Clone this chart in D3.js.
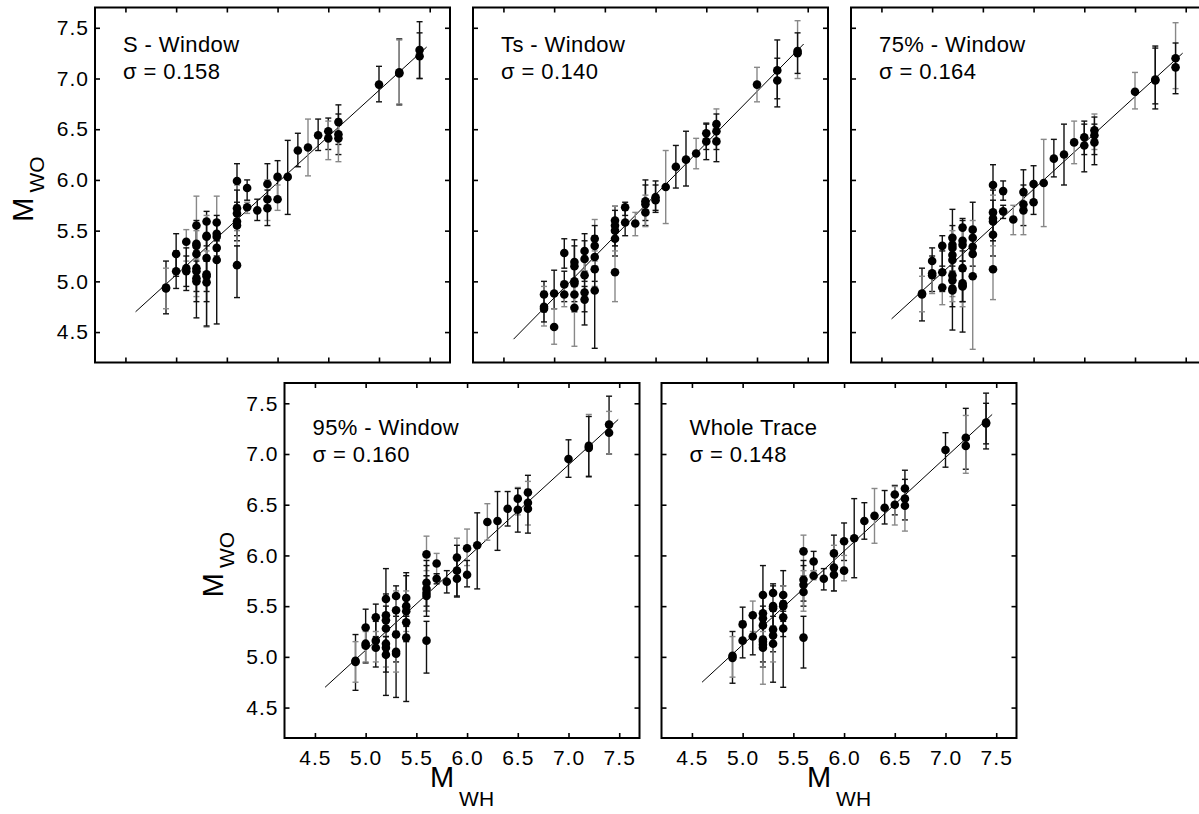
<!DOCTYPE html>
<html lang="en">
	<head>
		<meta charset="utf-8">
		<title>M_WO vs M_WH, five windows</title>
		<script type="text/javascript" src="https://cdn.jsdelivr.net/npm/d3@7"></script>
		<style type="text/css">
			body { margin: 0; background: #fff; }
			text { font-family: "Liberation Sans", Arial, sans-serif; fill: #000; }
		</style>
	</head>
	<body>
		<script type="text/javascript">
			// [M_WH, M_WO, lower, upper]
			var sWindow = [
				[4.9,4.94,4.68,5.20],[4.9,4.93,4.73,5.13],
				[5.0,5.27,5.05,5.47],[5.0,5.10,4.93,5.30],
				[5.1,5.39,5.20,5.51],[5.1,5.13,4.91,5.33],[5.1,5.10,4.95,5.25],
				[5.2,5.55,5.30,5.84],[5.2,5.37,5.15,5.60],[5.2,5.35,5.12,5.57],[5.2,5.27,5.05,5.50],[5.2,5.13,4.64,5.35],[5.2,5.10,4.90,5.30],[5.2,5.03,4.85,5.22],[5.2,5.00,4.80,5.20],
				[5.3,5.59,5.35,5.69],[5.3,5.45,5.25,5.65],[5.3,5.44,5.20,5.60],[5.3,5.23,4.90,5.45],[5.3,5.07,4.55,5.30],[5.3,5.05,4.80,5.25],[5.3,4.99,4.56,5.20],
				[5.4,5.58,5.40,5.84],[5.4,5.47,5.30,5.65],[5.4,5.44,5.25,5.60],[5.4,5.33,5.20,5.45],[5.4,5.21,4.58,5.40],
				[5.6,5.99,5.75,6.16],[5.6,5.72,5.50,5.95],[5.6,5.67,5.45,5.90],[5.6,5.59,5.40,5.78],[5.6,5.55,5.35,5.75],[5.6,5.16,4.84,5.35],
				[5.7,5.92,5.80,6.00],[5.7,5.73,5.67,5.78],
				[5.8,5.70,5.60,5.81],
				[5.9,5.96,5.75,6.16],[5.9,5.81,5.60,6.00],[5.9,5.72,5.55,5.90],
				[6.0,6.03,5.82,6.19],[6.0,5.81,5.70,5.95],
				[6.1,6.03,5.66,6.39],
				[6.2,6.29,6.13,6.46],
				[6.3,6.32,6.04,6.60],
				[6.4,6.44,6.29,6.60],
				[6.5,6.48,6.30,6.61],[6.5,6.41,6.20,6.58],
				[6.6,6.57,6.35,6.74],[6.6,6.45,6.25,6.65],[6.6,6.41,6.18,6.60],
				[7.0,6.94,6.77,7.12],
				[7.2,7.06,6.74,7.39],[7.2,7.05,6.75,7.38],
				[7.4,7.28,7.00,7.56],[7.4,7.22,7.00,7.45]
			];

			var tsWindow = [
				[4.9,4.87,4.70,5.00],[4.9,4.75,4.56,4.95],[4.9,4.73,4.60,4.90],
				[5.0,4.88,4.73,5.11],[5.0,4.55,4.38,4.73],
				[5.1,5.28,5.13,5.42],[5.1,4.97,4.80,5.10],[5.1,4.87,4.75,5.00],
				[5.2,5.19,5.00,5.41],[5.2,5.15,4.95,5.35],[5.2,5.00,4.85,5.15],[5.2,4.98,4.80,5.13],[5.2,4.87,4.70,5.00],[5.2,4.74,4.36,4.95],
				[5.3,5.30,5.10,5.47],[5.3,5.22,5.00,5.40],[5.3,5.06,4.90,5.25],[5.3,4.89,4.70,5.05],[5.3,4.82,4.57,4.95],
				[5.4,5.42,5.20,5.61],[5.4,5.35,5.15,5.55],[5.4,5.24,5.00,5.45],[5.4,5.12,4.95,5.30],[5.4,4.91,4.34,5.10],
				[5.6,5.60,5.40,5.74],[5.6,5.55,5.35,5.74],[5.6,5.50,5.35,5.70],[5.6,5.42,5.25,5.60],[5.6,5.09,4.80,5.30],
				[5.7,5.73,5.65,5.78],[5.7,5.58,5.45,5.70],
				[5.8,5.57,5.45,5.68],
				[5.9,5.79,5.60,6.00],[5.9,5.76,5.55,5.95],[5.9,5.68,5.54,5.85],
				[6.0,5.83,5.70,5.99],[6.0,5.80,5.68,5.95],
				[6.1,5.93,5.57,6.29],
				[6.2,6.13,5.92,6.34],
				[6.3,6.20,5.94,6.48],
				[6.4,6.26,6.11,6.41],
				[6.5,6.46,6.30,6.56],[6.5,6.38,6.20,6.55],
				[6.6,6.55,6.40,6.70],[6.6,6.48,6.30,6.65],[6.6,6.38,6.18,6.55],
				[7.0,6.94,6.77,7.11],
				[7.2,7.08,6.80,7.38],[7.2,6.98,6.72,7.20],
				[7.4,7.27,7.00,7.57],[7.4,7.25,7.05,7.45]
			];

			var w75Window = [
				[4.9,4.88,4.61,5.13],[4.9,4.87,4.70,5.05],
				[5.0,5.20,5.05,5.33],[5.0,5.08,4.90,5.25],[5.0,5.06,4.88,5.20],
				[5.1,5.35,5.15,5.45],[5.1,5.09,4.90,5.30],[5.1,4.94,4.77,5.10],
				[5.2,5.43,5.25,5.71],[5.2,5.36,5.15,5.55],[5.2,5.33,5.10,5.50],[5.2,5.26,5.05,5.45],[5.2,5.21,5.00,5.40],[5.2,5.06,4.85,5.25],[5.2,5.01,4.52,5.20],[5.2,4.93,4.75,5.10],[5.2,4.91,4.80,5.05],
				[5.3,5.53,5.30,5.62],[5.3,5.40,5.20,5.60],[5.3,5.36,5.15,5.55],[5.3,5.13,4.80,5.35],[5.3,4.98,4.50,5.20],[5.3,4.96,4.75,5.15],[5.3,4.95,4.80,5.10],
				[5.4,5.51,5.30,5.78],[5.4,5.43,5.25,5.60],[5.4,5.34,5.15,5.50],[5.4,5.27,5.05,5.45],[5.4,5.05,4.33,5.30],
				[5.6,5.95,5.70,6.15],[5.6,5.68,5.45,5.90],[5.6,5.62,5.40,5.85],[5.6,5.59,5.40,5.80],[5.6,5.46,5.25,5.65],[5.6,5.12,4.82,5.35],
				[5.7,5.89,5.80,5.99],[5.7,5.69,5.62,5.75],
				[5.8,5.61,5.46,5.75],
				[5.9,5.88,5.70,6.10],[5.9,5.76,5.55,5.95],[5.9,5.70,5.46,5.90],
				[6.0,5.96,5.80,6.14],[6.0,5.78,5.66,5.95],
				[6.1,5.97,5.54,6.40],
				[6.2,6.21,6.03,6.40],
				[6.3,6.25,5.95,6.55],
				[6.4,6.37,6.16,6.58],
				[6.5,6.42,6.25,6.58],[6.5,6.34,6.08,6.55],
				[6.6,6.49,6.30,6.65],[6.6,6.44,6.25,6.62],[6.6,6.37,6.15,6.55],
				[7.0,6.87,6.70,7.06],
				[7.2,6.99,6.70,7.32],[7.2,6.98,6.75,7.30],
				[7.4,7.20,6.90,7.55],[7.4,7.11,6.85,7.35]
			];

			var w95Window = [
				[4.9,4.96,4.67,5.22],[4.9,4.95,4.75,5.15],
				[5.0,5.29,5.10,5.47],[5.0,5.13,4.94,5.30],[5.0,5.11,4.95,5.25],
				[5.1,5.39,5.20,5.52],[5.1,5.16,4.90,5.35],[5.1,5.09,4.95,5.25],
				[5.2,5.57,5.35,5.87],[5.2,5.41,5.20,5.62],[5.2,5.36,5.15,5.60],[5.2,5.28,5.05,5.50],[5.2,5.13,4.62,5.35],[5.2,5.09,4.90,5.30],[5.2,5.02,4.85,5.20],
				[5.3,5.60,5.40,5.70],[5.3,5.46,5.25,5.65],[5.3,5.22,4.95,5.45],[5.3,5.05,4.60,5.25],[5.3,5.03,4.85,5.20],
				[5.4,5.58,5.40,5.83],[5.4,5.50,5.30,5.80],[5.4,5.45,5.25,5.65],[5.4,5.34,5.15,5.50],[5.4,5.19,4.56,5.40],
				[5.6,6.01,5.85,6.19],[5.6,5.73,5.50,5.95],[5.6,5.67,5.45,5.90],[5.6,5.63,5.45,5.80],[5.6,5.60,5.40,5.80],[5.6,5.16,4.84,5.35],
				[5.7,5.92,5.82,6.02],[5.7,5.77,5.72,5.82],
				[5.8,5.74,5.63,5.85],
				[5.9,5.98,5.80,6.17],[5.9,5.85,5.60,6.10],[5.9,5.77,5.59,5.95],
				[6.0,6.07,5.90,6.26],[6.0,5.81,5.69,5.95],
				[6.1,6.10,5.67,6.42],
				[6.2,6.33,6.15,6.51],
				[6.3,6.34,6.05,6.63],
				[6.4,6.46,6.29,6.63],
				[6.5,6.56,6.40,6.67],[6.5,6.45,6.23,6.66],
				[6.6,6.62,6.45,6.79],[6.6,6.52,6.30,6.73],[6.6,6.46,6.22,6.65],
				[7.0,6.95,6.77,7.14],
				[7.2,7.08,6.77,7.39],[7.2,7.06,6.78,7.37],
				[7.4,7.29,7.00,7.57],[7.4,7.21,7.00,7.42]
			];

			var wholeTrace = [
				[4.9,5.01,4.74,5.25],[4.9,4.99,4.80,5.20],
				[5.0,5.32,5.15,5.49],[5.0,5.16,4.99,5.35],
				[5.1,5.41,5.25,5.55],[5.1,5.20,5.02,5.40],
				[5.2,5.61,5.35,5.90],[5.2,5.43,5.20,5.62],[5.2,5.38,5.15,5.60],[5.2,5.31,5.10,5.50],[5.2,5.17,4.73,5.40],[5.2,5.15,4.95,5.35],[5.2,5.12,4.90,5.30],[5.2,5.09,4.90,5.25],
				[5.3,5.63,5.45,5.72],[5.3,5.50,5.30,5.70],[5.3,5.48,5.30,5.65],[5.3,5.27,5.05,5.45],[5.3,5.21,4.75,5.40],[5.3,5.13,4.95,5.30],
				[5.4,5.61,5.40,5.85],[5.4,5.52,5.35,5.70],[5.4,5.50,5.30,5.70],[5.4,5.39,5.20,5.55],[5.4,5.28,4.70,5.45],
				[5.6,6.04,5.80,6.20],[5.6,5.76,5.55,5.95],[5.6,5.71,5.50,5.90],[5.6,5.64,5.45,5.85],[5.6,5.19,4.89,5.40],
				[5.7,5.94,5.85,6.04],[5.7,5.80,5.76,5.85],
				[5.8,5.77,5.66,5.87],
				[5.9,6.02,5.85,6.20],[5.9,5.88,5.65,6.10],[5.9,5.81,5.65,6.00],
				[6.0,6.14,5.95,6.32],[6.0,5.85,5.75,6.00],
				[6.1,6.17,5.78,6.56],
				[6.2,6.34,6.16,6.52],
				[6.3,6.39,6.12,6.66],
				[6.4,6.47,6.31,6.64],
				[6.5,6.60,6.40,6.69],[6.5,6.50,6.30,6.68],
				[6.6,6.66,6.50,6.84],[6.6,6.56,6.35,6.75],[6.6,6.49,6.24,6.65],
				[7.0,7.04,6.87,7.21],
				[7.2,7.16,6.85,7.45],[7.2,7.08,6.81,7.38],
				[7.4,7.31,7.05,7.60],[7.4,7.30,7.10,7.50]
			];

			var panelData = [sWindow, tsWindow, w75Window, w95Window, wholeTrace];
			var panelNames = ["S - Window", "Ts - Window", "75% - Window", "95% - Window", "Whole Trace"];
			var sigmas = ["0.158", "0.140", "0.164", "0.160", "0.148"];
			// fit line ends [x0, y0, x1, y1]
			var fitLines = [
				[4.6, 4.70, 7.47, 7.31],
				[4.6, 4.43, 7.46, 7.34],
				[4.6, 4.63, 7.47, 7.25],
				[4.6, 4.70, 7.49, 7.34],
				[4.6, 4.75, 7.46, 7.39]
			];
			var tickValues = [4.5, 5.0, 5.5, 6.0, 6.5, 7.0, 7.5];
			var axisDomain = [4.2, 7.7];

			var w = 1199;
			var h = 814;
			var size = 355;

			// panel frames: top row three, bottom row two
			var layout = [
				{ left: 95, top: 7.5, row: 0, yLabels: true, xLabels: false },
				{ left: 473, top: 7.5, row: 0, yLabels: false, xLabels: false },
				{ left: 851, top: 7.5, row: 0, yLabels: false, xLabels: false },
				{ left: 284.5, top: 383, row: 1, yLabels: true, xLabels: true },
				{ left: 661.5, top: 383, row: 1, yLabels: false, xLabels: true }
			];

			var xScale = d3.scaleLinear().domain(axisDomain).range([0, size]);
			var yScale = d3.scaleLinear().domain(axisDomain).range([size, 0]);
			var fmt = d3.format(".1f");

			var svg = d3.select("body")
						.append("svg")
						.attr("width", w)
						.attr("height", h);

			layout.forEach(function(p, i) {
				var g = svg.append("g")
					.attr("transform", "translate(" + p.left + "," + p.top + ")");

				// axes, ticks pointing inward
				var left = g.append("g")
					.call(d3.axisLeft(yScale).tickValues(tickValues).tickSize(-5).tickPadding(6)
						.tickFormat(p.yLabels ? fmt : ""));
				var bottom = g.append("g")
					.attr("transform", "translate(0," + size + ")")
					.call(d3.axisBottom(xScale).tickValues(tickValues).tickSize(-5).tickPadding(12)
						.tickFormat(p.xLabels ? fmt : ""));
				var top = g.append("g")
					.call(d3.axisTop(xScale).tickValues(tickValues).tickSize(-5).tickFormat(""));
				var right = g.append("g")
					.attr("transform", "translate(" + size + ",0)")
					.call(d3.axisRight(yScale).tickValues(tickValues).tickSize(-5).tickFormat(""));

				[left, bottom, top, right].forEach(function(a) {
					a.select(".domain").remove();
					a.selectAll("line").attr("stroke", "#000").attr("stroke-width", 1.6);
					a.selectAll("text")
						.style("font-family", "'Liberation Sans', Arial, sans-serif")
						.style("font-size", "21px")
						.style("letter-spacing", "1px")
						.attr("fill", "#000");
				});

				g.append("rect")
					.attr("x", 0)
					.attr("y", 0)
					.attr("width", size)
					.attr("height", size)
					.attr("fill", "none")
					.attr("stroke", "#000")
					.attr("stroke-width", 2);

				// fit line
				var f = fitLines[i];
				g.append("line")
					.attr("x1", xScale(f[0]))
					.attr("y1", yScale(f[1]))
					.attr("x2", xScale(f[2]))
					.attr("y2", yScale(f[3]))
					.attr("stroke", "#000")
					.attr("stroke-width", 1);

				var data = panelData[i];

				// error bars, mostly dark with some grey ones like the original
				var bars = g.selectAll(".bar")
					.data(data)
					.enter()
					.append("g")
					.attr("class", "bar")
					.attr("stroke", function(d, j) { return j % 3 == 1 ? "#888" : "#111"; })
					.attr("stroke-width", 1.4);

				bars.append("line")
					.attr("x1", function(d) { return xScale(d[0]); })
					.attr("x2", function(d) { return xScale(d[0]); })
					.attr("y1", function(d) { return yScale(d[2]); })
					.attr("y2", function(d) { return yScale(d[3]); });
				bars.append("line")
					.attr("x1", function(d) { return xScale(d[0]) - 3; })
					.attr("x2", function(d) { return xScale(d[0]) + 3; })
					.attr("y1", function(d) { return yScale(d[2]); })
					.attr("y2", function(d) { return yScale(d[2]); });
				bars.append("line")
					.attr("x1", function(d) { return xScale(d[0]) - 3; })
					.attr("x2", function(d) { return xScale(d[0]) + 3; })
					.attr("y1", function(d) { return yScale(d[3]); })
					.attr("y2", function(d) { return yScale(d[3]); });

				g.selectAll(".dot")
					.data(data)
					.enter()
					.append("circle")
					.attr("class", "dot")
					.attr("cx", function(d) { return xScale(d[0]); })
					.attr("cy", function(d) { return yScale(d[1]); })
					.attr("r", 4.3)
					.attr("fill", "#000");

				// panel title and sigma
				var ty = p.row == 0 ? 44 : 52;
				g.append("text")
					.attr("x", 28)
					.attr("y", ty)
					.style("font-size", "22px")
					.style("letter-spacing", "0.4px")
					.text(panelNames[i]);
				g.append("text")
					.attr("x", 28)
					.attr("y", ty + 27)
					.style("font-size", "22px")
					.style("letter-spacing", "0.4px")
					.text("\u03c3 = " + sigmas[i]);

				// axis titles
				if (p.yLabels) {
					var yt = g.append("text")
						.attr("transform", "translate(-62," + (size / 2 + 4) + ") rotate(-90)")
						.attr("text-anchor", "middle");
					yt.append("tspan").style("font-size", "29px").text("M");
					yt.append("tspan").attr("dx", 5).attr("dy", 11).style("font-size", "21px").text("WO");
				}
				if (p.xLabels) {
					var xt = g.append("text")
						.attr("transform", "translate(" + (size / 2) + "," + (size + 49) + ")")
						.attr("text-anchor", "middle");
					xt.append("tspan").style("font-size", "29px").text("M");
					xt.append("tspan").attr("dx", 5).attr("dy", 19).style("font-size", "21px").text("WH");
				}
			});
		</script>
	</body>
</html>
